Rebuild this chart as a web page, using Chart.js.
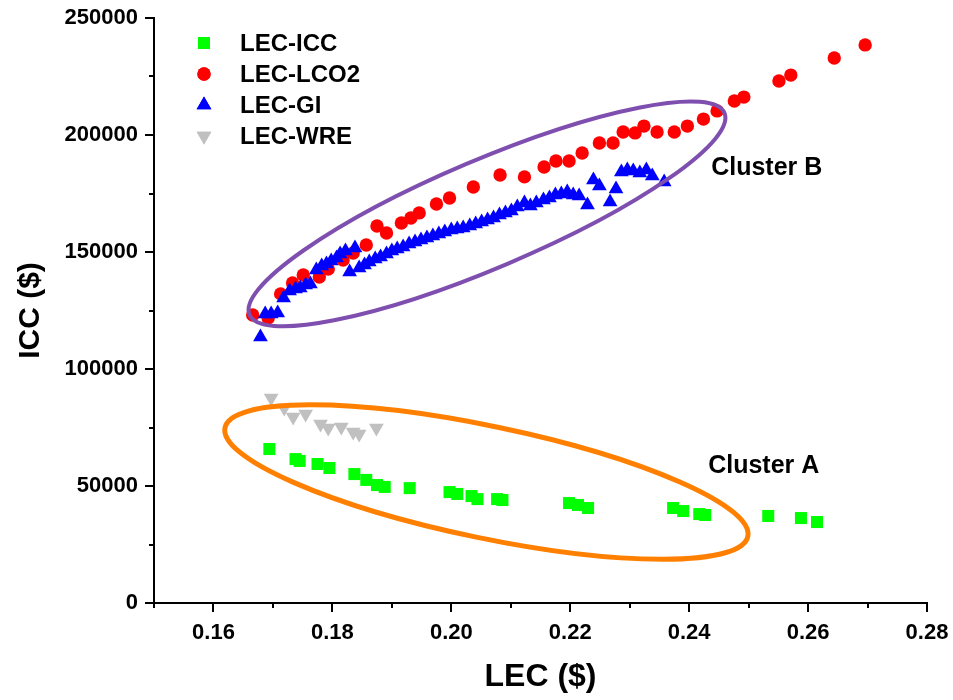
<!DOCTYPE html>
<html>
<head>
<meta charset="utf-8">
<script src="https://cdn.jsdelivr.net/npm/chart.js@4.4.1/dist/chart.umd.min.js"></script>
<style>
html,body{margin:0;padding:0;background:#fff;}
#wrap{width:953px;height:700px;position:relative;}
</style>
</head>
<body>
<div id="wrap"><canvas id="c" width="953" height="700"></canvas></div>
<script>
// ---------- data ----------
const seriesNames = ['LEC-ICC', 'LEC-LCO2', 'LEC-GI', 'LEC-WRE'];

const iccLEC = [0.1694,0.1738,0.1745,0.1775,0.1795,0.1837,0.1857,0.1875,0.1888,0.1930,0.1997,0.2010,0.2034,0.2044,0.2077,0.2086,0.2198,0.2213,0.2230,0.2373,0.2390,0.2417,0.2427,0.2533,0.2588,0.2615];
const iccICC = [65800,61500,60700,59400,57700,55100,52600,50400,49600,49100,47400,46600,45700,44400,44400,44000,42700,41900,40600,40600,39300,38000,37600,37200,36300,34600];

const lco2LEC = [0.1666,0.1692,0.1713,0.1733,0.1751,0.1778,0.1793,0.1818,0.1835,0.1857,0.1875,0.1891,0.1916,0.1932,0.1946,0.1975,0.1997,0.2037,0.2082,0.2123,0.2156,0.2176,0.2198,0.2220,0.2249,0.2272,0.2289,0.2309,0.2324,0.2346,0.2375,0.2397,0.2424,0.2447,0.2476,0.2492,0.2551,0.2571,0.2644,0.2696];
const lco2ICC = [123100,121800,132100,136800,140200,139300,142700,146600,149600,153000,161100,158100,162400,164500,166700,170500,173100,177800,182900,182100,186300,188900,188900,192300,196600,196600,201300,200900,203800,201300,201300,203800,206800,210300,214500,216200,223100,225600,232900,238500];

const giLEC = [0.1679,0.1687,0.1697,0.1708,0.1718,0.1728,0.1738,0.1746,0.1755,0.1763,0.1773,0.1782,0.1790,0.1798,0.1807,0.1813,0.1822,0.1838,0.1829,0.1845,0.1854,0.1862,0.1872,0.1881,0.1891,0.1900,0.1909,0.1919,0.1929,0.1939,0.1949,0.1959,0.1969,0.1979,0.1989,0.2000,0.2010,0.2020,0.2031,0.2041,0.2051,0.2061,0.2071,0.2081,0.2091,0.2101,0.2111,0.2123,0.2133,0.2143,0.2155,0.2165,0.2175,0.2185,0.2195,0.2205,0.2215,0.2229,0.2239,0.2249,0.2267,0.2277,0.2286,0.2296,0.2306,0.2317,0.2328,0.2338,0.2358];
const giICC = [113700,123500,123500,123900,130300,133300,134200,134600,135900,136300,142300,144000,144900,146200,147400,149100,150400,151700,141500,143200,144400,145700,147000,147900,149100,150400,151300,152100,153400,154300,155100,156000,156800,157700,158500,159400,159800,160300,161100,162000,162800,163700,164500,165800,166700,167500,169200,170900,169700,170900,172200,173100,174400,174800,175600,174400,173900,170100,180800,178200,171400,176900,184200,185000,184600,183800,185000,182500,179900];

const wreLEC = [0.1697,0.1719,0.1734,0.1755,0.1780,0.1793,0.1815,0.1835,0.1845,0.1874];
const wreICC = [87600,83300,79500,80800,76500,74800,75200,73100,72200,74800];

const xTickLabels = ['0.16','0.18','0.20','0.22','0.24','0.26','0.28'];
const xMinorTicks = ['0.15','0.17','0.19','0.21','0.23','0.25','0.27'];
const yTickLabels = ['0','50000','100000','150000','200000','250000'];
const yMinorTicks = ['25000','75000','125000','175000','225000'];

const clusterNames = ['Cluster A', 'Cluster B'];
const clusterLabelLEC = [0.2432, 0.2437];
const clusterLabelICC = [58500, 185900];
// ellipse centres in data units
const clusterCenterLEC = [0.2059, 0.2060];
const clusterCenterICC = [51700, 166300];

// ---------- styles ----------
const FONT = "'Liberation Sans', Arial, Helvetica, sans-serif";
const seriesColors = ['#00FF00', '#FF0000', '#0000FF', '#C0C0C0'];
const seriesStyles = ['rect', 'circle', 'triangle', 'triangle'];
const seriesRot = [0, 0, 0, 180];
const seriesRadius = [8.5, 6.7, 8.5, 8.5];
const ellipseStyle = [
  {rx: 267, ry: 56, angle: 11.75, color: '#FF8000', width: 5},
  {rx: 258, ry: 54, angle: -23.0, color: '#7F4FB0', width: 4}
];

const zip = (xs, ys) => xs.map((v, i) => ({x: v, y: ys[i]}));
const seriesData = [zip(iccLEC, iccICC), zip(lco2LEC, lco2ICC), zip(giLEC, giICC), zip(wreLEC, wreICC)];
const drawOrder = [2, 1, 0, 3];

const datasets = seriesNames.map((n, i) => ({
  label: n,
  data: seriesData[i],
  backgroundColor: seriesColors[i],
  borderColor: seriesColors[i],
  borderWidth: 0,
  pointStyle: seriesStyles[i],
  pointRotation: seriesRot[i],
  pointRadius: seriesRadius[i],
  pointHoverRadius: seriesRadius[i],
  pointBorderWidth: 0,
  order: drawOrder[i]
}));

const overlay = {
  id: 'overlay',
  afterDatasetsDraw(chart) {
    const {ctx, scales: {x, y}} = chart;
    ctx.save();
    ellipseStyle.forEach((e, i) => {
      ctx.beginPath();
      ctx.ellipse(x.getPixelForValue(clusterCenterLEC[i]), y.getPixelForValue(clusterCenterICC[i]),
        e.rx, e.ry, e.angle * Math.PI / 180, 0, Math.PI * 2);
      ctx.strokeStyle = e.color;
      ctx.lineWidth = e.width;
      ctx.stroke();
    });
    ctx.fillStyle = '#000';
    ctx.font = 'bold 25px ' + FONT;
    ctx.textAlign = 'left';
    ctx.textBaseline = 'middle';
    clusterNames.forEach((t, i) => {
      ctx.fillText(t, x.getPixelForValue(clusterLabelLEC[i]), y.getPixelForValue(clusterLabelICC[i]));
    });
    ctx.restore();
  },
  afterDraw(chart) {
    const {ctx, chartArea, scales: {x, y}} = chart;
    ctx.save();
    // minor ticks
    ctx.strokeStyle = '#000';
    ctx.lineWidth = 2;
    xMinorTicks.forEach(t => {
      const px = Math.round(x.getPixelForValue(parseFloat(t)));
      ctx.beginPath(); ctx.moveTo(px, chartArea.bottom); ctx.lineTo(px, chartArea.bottom + 5); ctx.stroke();
    });
    yMinorTicks.forEach(t => {
      const py = Math.round(y.getPixelForValue(parseFloat(t)));
      ctx.beginPath(); ctx.moveTo(chartArea.left - 5, py); ctx.lineTo(chartArea.left, py); ctx.stroke();
    });
    // legend
    const lx = chartArea.left + 50, tx = chartArea.left + 86, ly0 = chartArea.top + 25, step = 31;
    seriesNames.forEach((n, i) => {
      const yy = ly0 + i * step;
      ctx.fillStyle = seriesColors[i];
      Chart.helpers.drawPoint(ctx, {pointStyle: seriesStyles[i], rotation: seriesRot[i], radius: seriesRadius[i], borderWidth: 0}, lx, yy);
      ctx.fill();
      ctx.fillStyle = '#000';
      ctx.font = 'bold 24px ' + FONT;
      ctx.textAlign = 'left';
      ctx.textBaseline = 'middle';
      ctx.fillText(n, tx, yy + 1);
    });
    ctx.restore();
  }
};

new Chart(document.getElementById('c'), {
  type: 'scatter',
  data: {datasets},
  plugins: [overlay],
  options: {
    responsive: false,
    animation: false,
    devicePixelRatio: 1,
    layout: {padding: {top: 18, right: 26, left: 0, bottom: 0}},
    plugins: {legend: {display: false}, tooltip: {enabled: false}},
    scales: {
      x: {
        type: 'linear', min: 0.15, max: 0.28,
        afterBuildTicks: s => { s.ticks = xTickLabels.map(t => ({value: parseFloat(t)})); },
        afterFit: s => { s.height = 97; s.paddingRight = 0; s.paddingLeft = 0; },
        ticks: {
          callback: (v, i) => xTickLabels[i],
          font: {family: FONT, size: 22, weight: 'bold'}, color: '#000',
          padding: 8, maxRotation: 0, autoSkip: false
        },
        grid: {display: true, drawOnChartArea: false, drawTicks: true, tickLength: 9, color: '#000', lineWidth: 2},
        border: {display: true, color: '#000', width: 2},
        title: {display: true, text: 'LEC ($)', font: {family: FONT, size: 32, weight: 'bold'}, color: '#000', padding: {top: 0, bottom: 4}}
      },
      y: {
        type: 'linear', min: 0, max: 250000,
        afterBuildTicks: s => { s.ticks = yTickLabels.map(t => ({value: parseFloat(t)})); },
        afterFit: s => { s.width = 154; s.paddingTop = 0; s.paddingBottom = 0; },
        ticks: {
          callback: (v, i) => yTickLabels[i],
          font: {family: FONT, size: 22, weight: 'bold'}, color: '#000',
          padding: 7, autoSkip: false
        },
        grid: {display: true, drawOnChartArea: false, drawTicks: true, tickLength: 9, color: '#000', lineWidth: 2},
        border: {display: true, color: '#000', width: 2},
        title: {display: true, text: 'ICC ($)', font: {family: FONT, size: 30, weight: 'bold'}, color: '#000', padding: {top: 13, bottom: 0}}
      }
    }
  }
});
</script>
</body>
</html>
